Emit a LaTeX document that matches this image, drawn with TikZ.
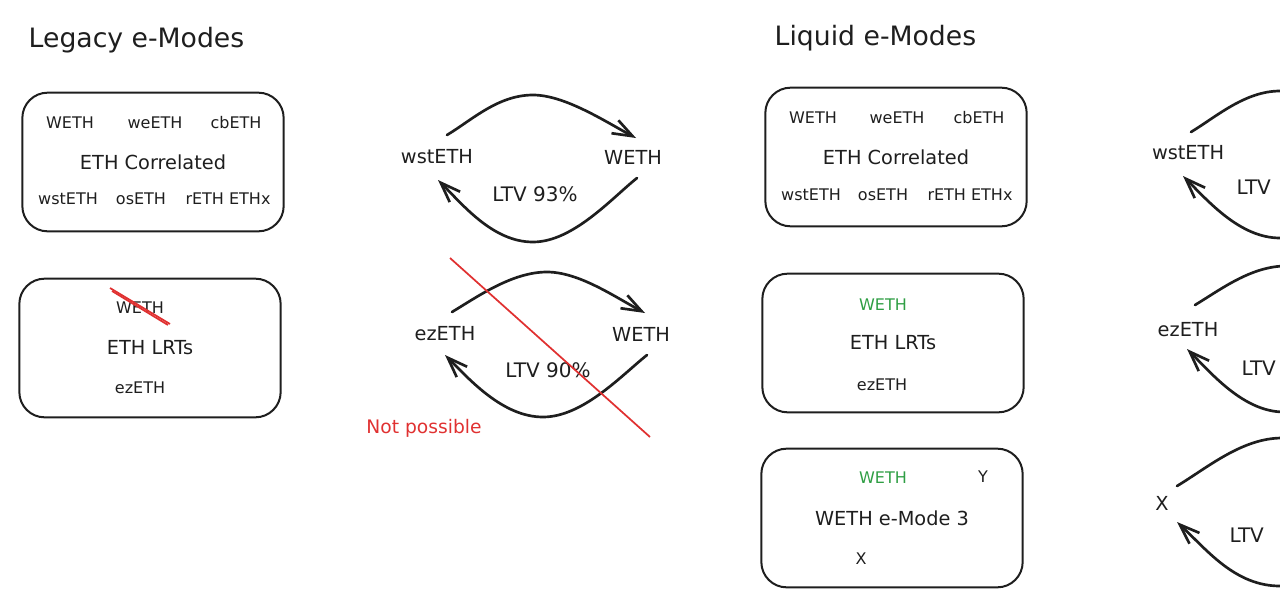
\documentclass[tikz,border=0pt]{standalone}
\usepackage{fontspec}
\setmainfont{DejaVu Sans}
\usetikzlibrary{arrows.meta,positioning,calc}
\definecolor{ink}{HTML}{1E1E1E}
\definecolor{sketchred}{HTML}{E03131}
\definecolor{sketchgreen}{HTML}{2F9E44}

\begin{document}
\begin{tikzpicture}[
x=0.75pt,y=-0.75pt,
heading/.style={font=\fontsize{20}{24}\selectfont,text=ink,anchor=west},
mode/.style={draw=ink,line width=1.5pt,rounded corners=19pt,minimum width=196pt,
minimum height=104pt,font=\fontsize{14.5}{17}\selectfont,text=ink},
tok/.style={font=\fontsize{12}{14}\selectfont,text=ink,inner sep=1pt},
pair/.style={font=\fontsize{14.5}{17}\selectfont,text=ink,inner sep=1pt},
ltv/.style={font=\fontsize{15}{18}\selectfont,text=ink,inner sep=1pt},
arr/.style={draw=ink,line width=2pt,line cap=round,-{Straight Barb[length=15pt,width=11pt]}},
strike/.style={draw=sketchred,line width=1.3pt}
]
\useasboundingbox (0,0) rectangle (1280,607);
\clip (0,0) rectangle (1280,607);

% legacy side
\node[heading] (legacy) at (24,40) {Legacy e-Modes};
\node[mode] (corr1) at (153,162) {ETH Correlated};
\node[tok] (weth-a) at (70,123) {WETH};
\node[tok] (we-a) at (155,123) {weETH};
\node[tok] (cb-a) at (236,123) {cbETH};
\node[tok] (wst-a) at (68,199) {wstETH};
\node[tok] (os-a) at (141,199) {osETH};
\node[tok] (rx-a) at (228,199) {rETH ETHx};

\node[mode] (lrt1) at (150,348) {ETH LRTs};
\node[tok] (weth-b) at (140,308) {WETH};
\node[tok] (ez-b) at (140,388) {ezETH};
\draw[strike] ($(weth-b)+(-30,-20)$) -- ($(weth-b)+(30,16)$);
\draw[strike] ($(weth-b)+(-28,-17)$) -- ($(weth-b)+(28,17)$);

% wstETH / WETH loop
\node[pair] (wst1) at (437,157) {wstETH};
\node[pair] (weth1) at (633,157) {WETH};
\node[ltv] (ltv1) at (535,194) {LTV 93\%};
\draw[arr] ($(wst1)+(10,-22)$) .. controls +(25,-15) and +(-35,0) .. ($(wst1)+(96,-62)$)
  .. controls +(32,0) and +(-30,-16) .. ($(weth1)+(3,-19)$);
\draw[arr] ($(weth1)+(4,21)$) .. controls +(-25,20) and +(40,0) .. ($(wst1)+(96,85)$)
  .. controls +(-40,0) and +(25,25) .. ($(wst1)+(1,23)$);

% ezETH / WETH loop
\node[pair] (ez2) at (445,334) {ezETH};
\node[pair] (weth2) at (641,334) {WETH};
\node[ltv] (ltv2) at (548,370) {LTV 90\%};
\draw[arr] ($(ez2)+(7,-22)$) .. controls +(25,-15) and +(-35,0) .. ($(ez2)+(102,-62)$)
  .. controls +(32,0) and +(-30,-16) .. ($(weth2)+(4,-21)$);
\draw[arr] ($(weth2)+(6,21)$) .. controls +(-25,20) and +(40,0) .. ($(ez2)+(98,83)$)
  .. controls +(-40,0) and +(25,25) .. ($(ez2)+(0,21)$);
\draw[strike] (450,258) -- (650,437);
\node[text=sketchred,font=\fontsize{14}{17}\selectfont,inner sep=1pt] (nope) at (424,428) {Not possible};

% liquid side
\node[heading] (liquid) at (770,38) {Liquid e-Modes};
\node[mode] (corr2) at (896,157) {ETH Correlated};
\node[tok] (weth-c) at (813,118) {WETH};
\node[tok] (we-c) at (897,118) {weETH};
\node[tok] (cb-c) at (979,118) {cbETH};
\node[tok] (wst-c) at (811,195) {wstETH};
\node[tok] (os-c) at (883,195) {osETH};
\node[tok] (rx-c) at (970,195) {rETH ETHx};

\node[mode] (lrt2) at (893,343) {ETH LRTs};
\node[tok,text=sketchgreen] (weth-d) at (883,305) {WETH};
\node[tok] (ez-d) at (882,385) {ezETH};

\node[mode] (mode3) at (892,518) {WETH e-Mode 3};
\node[tok,text=sketchgreen] (weth-e) at (883,478) {WETH};
\node[tok] (y-e) at (983,477) {Y};
\node[tok] (x-e) at (861,559) {X};

% loops cut by the right edge
\node[pair] (wstA) at (1188,153) {wstETH};
\coordinate (wethA) at (1384,153);
\node[ltv,anchor=west] (ltvA) at (1235,187) {LTV};
\draw[arr] ($(wstA)+(3,-21)$) .. controls +(25,-15) and +(-35,0) .. ($(wstA)+(92,-62)$)
  .. controls +(32,0) and +(-30,-16) .. ($(wethA)+(3,-19)$);
\draw[arr] ($(wethA)+(4,21)$) .. controls +(-25,20) and +(40,0) .. ($(wstA)+(92,85)$)
  .. controls +(-40,0) and +(25,25) .. ($(wstA)+(-5,23)$);

\node[pair] (ezB) at (1188,330) {ezETH};
\coordinate (wethB) at (1384,330);
\node[ltv,anchor=west] (ltvB) at (1240,368) {LTV};
\draw[arr] ($(ezB)+(7,-25)$) .. controls +(25,-15) and +(-35,0) .. ($(ezB)+(98,-64)$)
  .. controls +(32,0) and +(-30,-16) .. ($(wethB)+(4,-21)$);
\draw[arr] ($(wethB)+(6,21)$) .. controls +(-25,20) and +(40,0) .. ($(ezB)+(96,82)$)
  .. controls +(-40,0) and +(25,25) .. ($(ezB)+(-1,19)$);

\node[pair] (xC) at (1162,503) {X};
\coordinate (yC) at (1390,503);
\node[ltv,anchor=west] (ltvC) at (1228,535) {LTV};
\draw[arr] ($(xC)+(15,-17)$) .. controls +(30,-18) and +(-40,0) .. ($(xC)+(120,-65)$)
  .. controls +(32,0) and +(-30,-16) .. ($(yC)+(3,-19)$);
\draw[arr] ($(yC)+(4,21)$) .. controls +(-25,20) and +(40,0) .. ($(xC)+(118,83)$)
  .. controls +(-45,0) and +(30,28) .. ($(xC)+(15,19)$);
\end{tikzpicture}
\end{document}
